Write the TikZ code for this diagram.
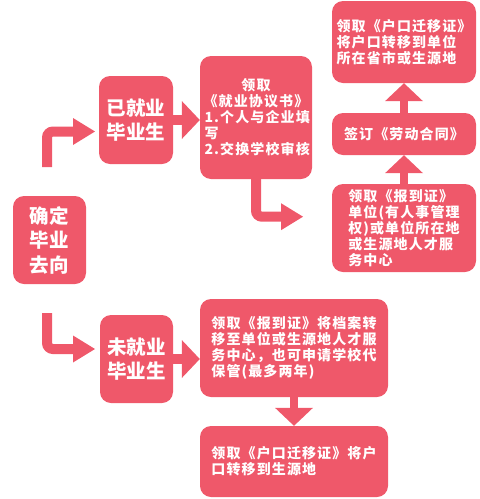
\documentclass[tikz,border=0pt]{standalone}
\usepackage{fontspec}
\newfontfamily\cjk{Noto Sans CJK SC}
\newfontfamily\cjks{Noto Sans CJK SC}[LetterSpace=8]
\usetikzlibrary{arrows.meta,calc}
\definecolor{pk}{RGB}{239,88,106}
\tikzset{
  box/.style={fill=pk, rounded corners=11pt, inner sep=0pt, text=white},
  smalltxt/.style={font=\cjks\bfseries\fontsize{14}{16}\selectfont},
  bigtxt/.style={font=\cjk\bfseries\fontsize{19.5}{24.5}\selectfont},
  bentarrow/.style={draw=pk, line width=10pt, rounded corners=6pt,
    -{Triangle[length=22pt,width=27pt,line width=0pt]}},
  harrow/.style={draw=pk, line width=10pt,
    -{Triangle[length=18pt,width=38pt,line width=0pt]}},
  varrow/.style={draw=pk, line width=8pt,
    -{Triangle[length=18pt,width=38pt,line width=0pt]}}
}
\begin{document}
\begin{tikzpicture}[x=1pt,y=-1pt]
\useasboundingbox (0,0) rectangle (480,499);
% boxes
\node[box,bigtxt,minimum width=73pt,minimum height=88pt,align=center] (A) at (49.5,240) {确定\\毕业\\去向};
\node[box,bigtxt,minimum width=74pt,minimum height=88pt,align=center] (B) at (136,120) {已就业\\毕业生};
\node[box,smalltxt,minimum width=112pt,minimum height=123pt,align=center] (C) at (256,117.5)
  {领取\\《就业协议书》\\\makebox[103pt][l]{1.个人与企业填}\\\makebox[103pt][l]{写}\\\makebox[103pt][l]{2.交换学校审核}};
\node[box,smalltxt,minimum width=144pt,minimum height=82pt,align=left] (D) at (404,42)
  {领取《户口迁移证》\\将户口转移到单位\\所在省市或生源地};
\node[box,smalltxt,minimum width=144pt,minimum height=42pt,align=center] (E) at (404,134)
  {签订《劳动合同》};
\node[box,smalltxt,minimum width=144pt,minimum height=88pt,align=left] (F) at (404,228)
  {领取《报到证》\\单位(有人事管理\\权)或单位所在地\\或生源地人才服\\务中心};
\node[box,bigtxt,minimum width=73pt,minimum height=88pt,align=center] (G) at (136.5,359) {未就业\\毕业生};
\node[box,smalltxt,minimum width=188pt,minimum height=98pt,align=left] (H) at (294,348)
  {领取《报到证》将档案转\\移至单位或生源地人才服\\务中心，也可申请学校代\\保管(最多两年)};
\node[box,smalltxt,minimum width=188pt,minimum height=71pt,align=left] (I) at (294,461.5)
  {领取《户口迁移证》将户\\口转移到生源地};
% free ends
\coordinate (s1) at (47,167);
\coordinate (t1) at (95,131.5);
\coordinate (s2) at (47,313);
\coordinate (t2) at (95,349);
\coordinate (t3) at (303,216.7);
% connectors
\draw[bentarrow] (s1) |- (t1);
\draw[bentarrow] (s2) |- (t2);
\draw[bentarrow] (C.south) |- (t3);
\draw[harrow] (B.east) -- (B.east -| C.west);
\draw[harrow] (G.east) -- (G.east -| H.west);
\draw[varrow] (F.north) -- (E.south);
\draw[varrow] (E.north) -- (D.south);
\draw[varrow] (H.south) -- (I.north);
\end{tikzpicture}
\end{document}
